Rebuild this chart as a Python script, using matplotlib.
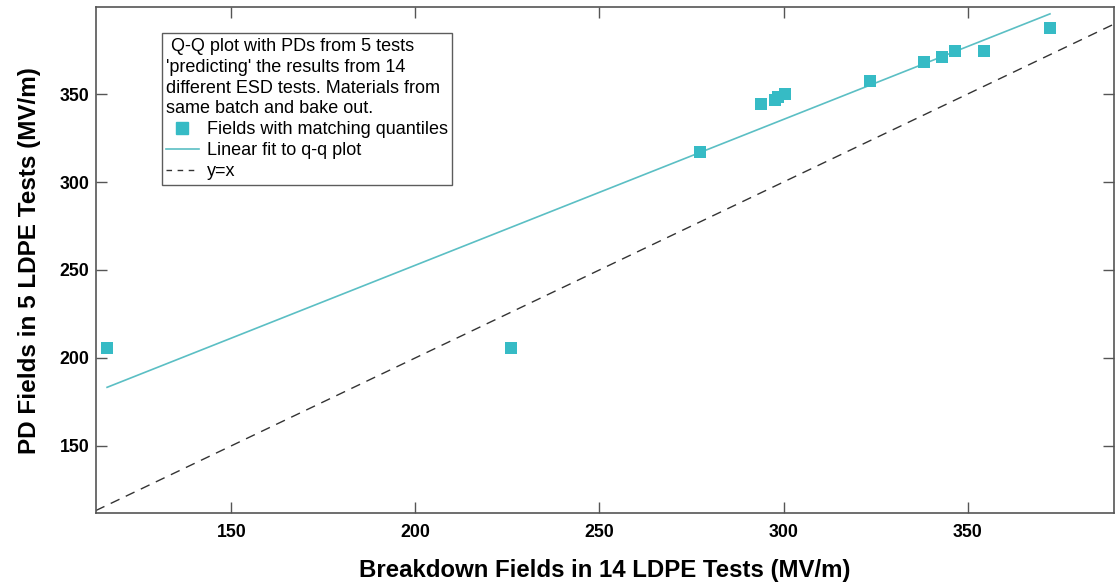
import matplotlib
matplotlib.use("Agg")
import matplotlib.pyplot as plt
from matplotlib.lines import Line2D
import numpy as np

plt.rcParams['font.family'] = ['Liberation Sans', 'DejaVu Sans']

# Data
esd_fields = [116.2, 225.9, 277.3, 293.8, 297.6, 298.4, 300.4, 323.6, 338.2, 343.2, 346.7, 354.5, 372.4]
pd_fields = [205.7, 205.7, 317.2, 344.3, 346.8, 348.1, 350.0, 357.6, 368.0, 371.0, 374.6, 374.6, 387.7]
fit_slope = 0.829
fit_intercept = 86.9
x_ticks = [150, 200, 250, 300, 350]
y_ticks = [150, 200, 250, 300, 350]

teal_marker = '#36BBC5'
teal_line = '#5BBFC4'

fig = plt.figure(figsize=(11.15, 5.83), dpi=100)
ax = fig.add_axes([0.0858, 0.1196, 0.9133, 0.868])

ax.set_xlim(113.1, 389.8)
ax.set_ylim(111.6, 399.4)

# y = x reference line
ref = np.array([113.1, 389.8])
ax.plot(ref, ref, color='#333333', lw=1.0, dashes=(7, 5), zorder=1)

# fit line
fx = np.array([min(esd_fields), max(esd_fields)])
ax.plot(fx, fit_slope * fx + fit_intercept, color=teal_line, lw=1.2, zorder=2)

ax.scatter(esd_fields, pd_fields, marker='s', s=65, color=teal_marker, zorder=3, linewidths=0)

ax.set_xticks(x_ticks)
ax.set_yticks(y_ticks)
ax.tick_params(direction='in', length=8, width=1.0, color='#555555',
               top=True, right=True, labelsize=12.8)
ax.tick_params(axis='x', pad=8)
ax.tick_params(axis='y', pad=4.5)
for lab in ax.get_xticklabels() + ax.get_yticklabels():
    lab.set_fontweight('bold')
for sp in ax.spines.values():
    sp.set_color('#555555')
    sp.set_linewidth(1.2)

ax.set_xlabel('Breakdown Fields in 14 LDPE Tests (MV/m)', fontsize=17.3, fontweight='bold', labelpad=13)
ax.set_ylabel('PD Fields in 5 LDPE Tests (MV/m)', fontsize=17.5, fontweight='bold', labelpad=13)

handles = [
    Line2D([], [], marker='s', ls='none', color=teal_marker, markersize=8),
    Line2D([], [], color=teal_line, lw=1.2),
    Line2D([], [], color='#333333', lw=1.0, dashes=(4, 4)),
]
labels = ['Fields with matching quantiles', 'Linear fit to q-q plot', 'y=x']
title = (" Q-Q plot with PDs from 5 tests\n'predicting' the results from 14\n"
         "different ESD tests. Materials from\nsame batch and bake out.")
leg = ax.legend(handles, labels, loc='upper left', bbox_to_anchor=(0.0648, 0.9486),
                borderaxespad=0, fontsize=13, title=title, title_fontsize=13,
                alignment='left', frameon=True, fancybox=False, handlelength=1.8,
                handletextpad=0.45, labelspacing=0.22, borderpad=0.25)
leg.get_title().set_linespacing(1.3)
leg.get_frame().set_edgecolor('#333333')
leg.get_frame().set_linewidth(1.0)

fig.savefig('out.png', dpi=100)
